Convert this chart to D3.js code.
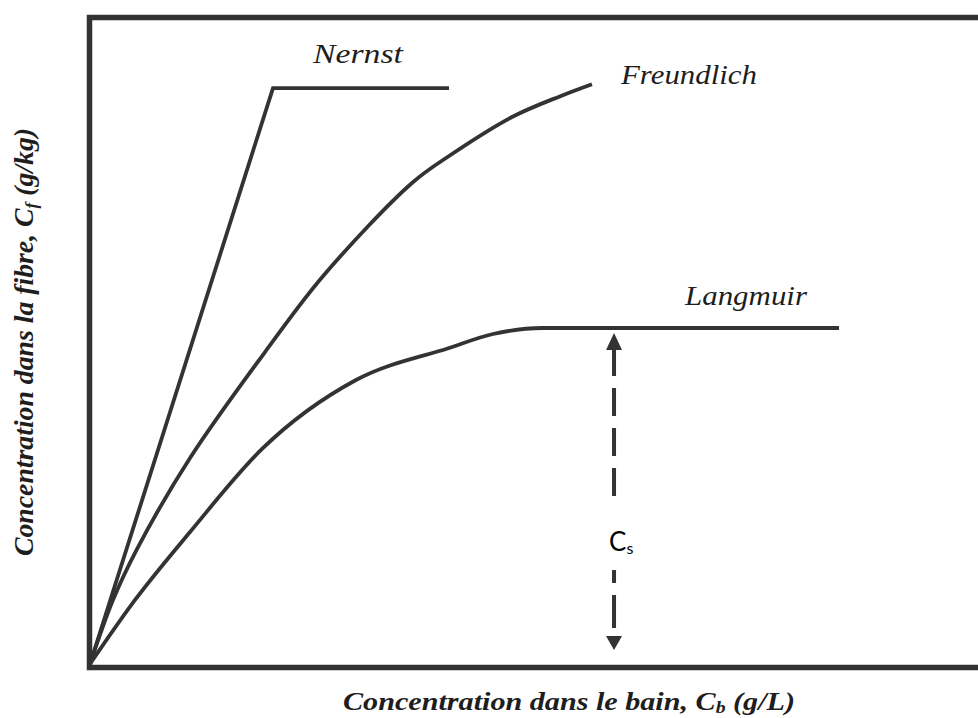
<!DOCTYPE html>
<html>
<head>
<meta charset="utf-8">
<script src="https://cdn.jsdelivr.net/npm/d3@7"></script>
<style>
  html, body { margin: 0; padding: 0; background: #fff; }
  svg { display: block; }
  .serif { font-family: "Liberation Serif", "Times New Roman", Times, serif; }
  .sans { font-family: Lato, "Open Sans", "Liberation Sans", sans-serif; }
</style>
</head>
<body>
<svg id="chart" width="978" height="718"></svg>
<script>
// ---- Data (abstract units: x = bath concentration, y = fibre concentration) ----
const nernstX = [0, 20.56, 40.34];
const nernstY = [0, 88.6, 88.6];

const freundlichX = [0, 2.58, 5.28, 11.24, 20.0, 26.29, 36.18, 40.34, 47.42, 52.92, 56.40];
const freundlichY = [0, 9.85, 17.69, 31.69, 48.62, 59.85, 74.0, 78.15, 84.15, 87.4, 89.2];

const langmuirX = [0, 5.06, 11.24, 19.33, 29.89, 40.34, 45.28, 50.9, 84.16];
const langmuirY = [0, 9.85, 20.31, 33.08, 43.69, 48.62, 50.77, 51.69, 51.69];

const csX = 58.88;          // position of the Cs arrow
const csValue = 51.69;      // saturation level

const seriesNames = ["Nernst", "Freundlich", "Langmuir"];

// ---- Layout ----
const svg = d3.select("#chart");
const x = d3.scaleLinear().domain([0, 100]).range([90, 980]);
const y = d3.scaleLinear().domain([0, 100]).range([664, 14]);

const ink = "#333333";
const textInk = "#1e1e1e";

// Frame (axes box)
svg.append("rect")
  .attr("x", 89.5).attr("y", 17.5)
  .attr("width", 900).attr("height", 650)
  .attr("fill", "none")
  .attr("stroke", ink)
  .attr("stroke-width", 5.5);

const zip = (xs, ys) => xs.map((v, i) => [v, ys[i]]);

const linePlain = d3.line().x(d => x(d[0])).y(d => y(d[1])).curve(d3.curveLinear);
const lineCR = d3.line().x(d => x(d[0])).y(d => y(d[1])).curve(d3.curveCatmullRom.alpha(0.5));
const lineMono = d3.line().x(d => x(d[0])).y(d => y(d[1])).curve(d3.curveMonotoneX);

svg.append("path")
  .attr("d", linePlain(zip(nernstX, nernstY)))
  .attr("fill", "none").attr("stroke", ink)
  .attr("stroke-width", 3.8).attr("stroke-linejoin", "miter");

svg.append("path")
  .attr("d", lineCR(zip(freundlichX, freundlichY)))
  .attr("fill", "none").attr("stroke", ink)
  .attr("stroke-width", 3.8);

svg.append("path")
  .attr("d", lineMono(zip(langmuirX, langmuirY)))
  .attr("fill", "none").attr("stroke", ink)
  .attr("stroke-width", 3.8);

// ---- Cs dashed double arrow ----
const ax = x(csX);
const topTip = y(csValue) + 5;   // just below the plateau line
const botTip = y(0) - 14;

svg.append("path")
  .attr("d", `M${ax},${topTip} L${ax - 8},${topTip + 17} L${ax + 8},${topTip + 17} Z`)
  .attr("fill", ink);
svg.append("path")
  .attr("d", `M${ax},${botTip} L${ax - 8},${botTip - 14} L${ax + 8},${botTip - 14} Z`)
  .attr("fill", ink);

svg.append("line")
  .attr("x1", ax).attr("x2", ax)
  .attr("y1", topTip + 15).attr("y2", 505)
  .attr("stroke", ink).attr("stroke-width", 4)
  .attr("stroke-dasharray", "28,12");

svg.append("line")
  .attr("x1", ax).attr("x2", ax)
  .attr("y1", 570).attr("y2", botTip - 12)
  .attr("stroke", ink).attr("stroke-width", 4)
  .attr("stroke-dasharray", "13,12,33,20");

// Cs label
const cs = svg.append("text")
  .attr("class", "sans")
  .attr("x", ax - 5).attr("y", 551)
  .attr("font-size", 26)
  .attr("fill", "#000");
cs.append("tspan").text("C");
cs.append("tspan").attr("font-size", 16).attr("dy", 3).text("s");

// ---- Series labels ----
const labelPos = [
  { name: seriesNames[0], x: 313, y: 63, len: 90 },
  { name: seriesNames[1], x: 621, y: 84, len: 136 },
  { name: seriesNames[2], x: 685, y: 305, len: 122 }
];
svg.selectAll("text.series")
  .data(labelPos)
  .enter().append("text")
  .attr("class", "series serif")
  .attr("x", d => d.x).attr("y", d => d.y)
  .attr("font-style", "italic")
  .attr("font-size", 27)
  .attr("fill", textInk)
  .attr("textLength", d => d.len)
  .attr("lengthAdjust", "spacingAndGlyphs")
  .text(d => d.name);

// ---- Axis titles ----
const xt = svg.append("text")
  .attr("class", "serif")
  .attr("x", 343).attr("y", 710)
  .attr("font-style", "italic")
  .attr("font-weight", "bold")
  .attr("font-size", 26)
  .attr("fill", textInk)
  .attr("textLength", 452)
  .attr("lengthAdjust", "spacingAndGlyphs");
xt.append("tspan").text("Concentration dans le bain, C");
xt.append("tspan").attr("font-size", 17).attr("dy", 3).text("b");
xt.append("tspan").attr("dy", -3).text(" (g/L)");

const yt = svg.append("text")
  .attr("class", "serif")
  .attr("transform", "translate(33,556) rotate(-90)")
  .attr("font-style", "italic")
  .attr("font-weight", "bold")
  .attr("font-size", 27)
  .attr("fill", textInk)
  .attr("textLength", 428)
  .attr("lengthAdjust", "spacingAndGlyphs");
yt.append("tspan").text("Concentration dans la fibre, C");
yt.append("tspan").attr("font-size", 17).attr("dy", 4).text("f");
yt.append("tspan").attr("dy", -4).text(" (g/kg)");
</script>
</body>
</html>
